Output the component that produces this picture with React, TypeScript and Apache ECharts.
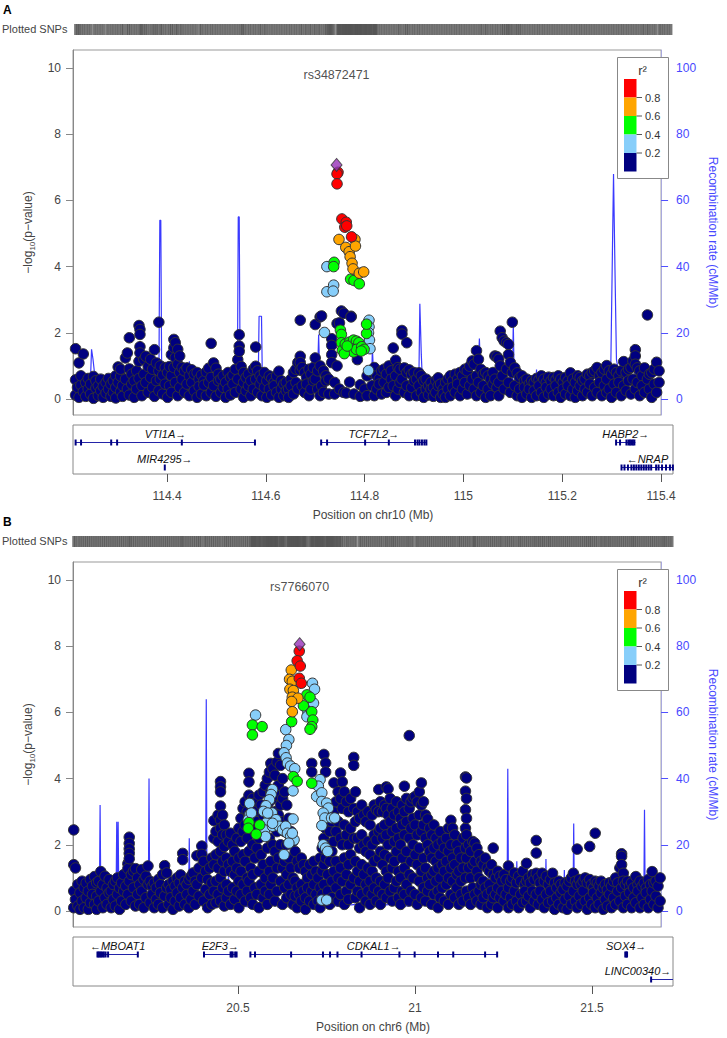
import React, { useEffect, useRef } from "react";
import * as echarts from "echarts";

const FONT = "'Liberation Sans', Arial, Helvetica, sans-serif";
const R2_COLORS = ["#000080", "#87CEFA", "#00FF00", "#FFA500", "#FF0000"];
const R2_LEGEND_LABELS = ["0.8", "0.6", "0.4", "0.2"];
const LEAD_COLOR = "#9632B8";
const LOGP_TICKS = [0, 2, 4, 6, 8, 10];
const RECOMB_TICKS = [0, 20, 40, 60, 80, 100];

// ---------------- Panel A (chr10, TCF7L2) ----------------
const A_SNP = "rs34872471";
const A_CHR = "chr10";
const A_X_RANGE = [114.2097, 115.4242];
const A_X_TICKS = [114.4, 114.6, 114.8, 115, 115.2, 115.4];
const A_LEAD = [114.754, 7.07];
const A_RED = [[114.757, 6.85], [114.755, 6.8], [114.755, 6.5], [114.765, 5.44], [114.774, 5.34], [114.771, 5.19], [114.775, 5.23], [114.785, 4.9]];
const A_ORANGE = [[114.759, 4.82], [114.773, 4.58], [114.78, 4.45], [114.782, 4.3], [114.792, 4.82], [114.793, 4.62], [114.786, 4.1], [114.788, 3.93], [114.801, 3.8], [114.81, 3.84]];
const A_GREEN = [[114.749, 4.13], [114.748, 4.0], [114.783, 3.62], [114.79, 3.58], [114.801, 3.48], [114.762, 2.08], [114.764, 1.95], [114.764, 1.7], [114.766, 1.47], [114.772, 1.66], [114.781, 1.72], [114.789, 1.78], [114.795, 1.75], [114.8, 1.7], [114.783, 1.52], [114.789, 1.42], [114.795, 1.5], [114.806, 1.58], [114.811, 1.5], [114.77, 1.37], [114.816, 1.98], [114.816, 2.26], [114.776, 1.6], [114.805, 1.45]];
const A_LBLUE = [[114.734, 4.0], [114.734, 3.24], [114.748, 3.44], [114.747, 3.26], [114.729, 2.01], [114.821, 2.38], [114.821, 2.18], [114.82, 2.0], [114.822, 1.78], [114.823, 1.52], [114.82, 0.86]];
// [position, -log10 p of SNPs near that position ...]
const A_NAVY = [[114.215,0.12,0.58,1.52],[114.219,0.35],[114.222,1.09,0.05],[114.226,0.42,0.7],[114.231,1.36,0.22],[114.236,0.5,0.08],[114.241,0.62,0.3],[114.246,0.15,0.45],[114.252,0.68,0.02],[114.257,0.33,0.55],[114.262,0.1,0.4],[114.267,0.6,0.25],[114.272,0.05,0.38],[114.278,0.5,0.18],[114.283,0.3,0.62],[114.288,0.08,0.45],[114.293,0.55,0.2],[114.298,0.7,0.35,0.03],[114.303,0.97,0.5],[114.308,0.69,0.22,0.9],[114.312,0.4,0.08],[114.318,1.24,0.6],[114.322,1.39,0.3],[114.326,1.85,0.91,0.12],[114.331,0.75,0.45],[114.336,0.55,0.05],[114.341,0.85,0.3],[114.346,2.22,1.14,0.62],[114.348,2.1,1.95,1.58,1.39],[114.352,0.4,0.1],[114.356,1.19,0.75],[114.36,1.29,0.5],[114.365,0.98,0.2],[114.37,1.2,0.65],[114.374,0.9,0.35],[114.378,1.49,0.08],[114.382,1.09,0.55],[114.387,2.32,0.85,0.25],[114.39,1.0,0.6],[114.395,0.72,0.15],[114.4,0.95,0.45],[114.405,0.8,0.05],[114.409,0.98,0.4],[114.413,1.34,0.7,0.2],[114.418,1.8,1.55,0.95],[114.421,1.7,1.25,0.5],[114.426,1.5,1.05,0.1],[114.43,1.3,0.8,0.35],[114.435,0.95,0.6],[114.44,0.85,0.2],[114.445,0.94,0.45],[114.45,0.7,0.1],[114.455,0.88,0.5],[114.46,0.75,0.25],[114.466,0.8,0.05],[114.47,0.6,0.38],[114.475,0.72,0.15],[114.48,0.55,0.42],[114.485,0.82,0.1],[114.49,0.93,0.5],[114.495,1.68,0.65,0.2],[114.5,1.09,0.4],[114.505,0.93,0.08],[114.51,0.75,0.55],[114.515,0.6,0.2],[114.52,0.7,0.35],[114.525,0.5,0.05],[114.53,0.8,0.3],[114.535,0.65,0.12],[114.54,0.72,0.45],[114.545,0.9,0.2],[114.55,1.19,0.6],[114.553,1.94,1.6,1.44],[114.557,0.98,0.3],[114.562,0.8,0.5,0.05],[114.567,0.65,0.25],[114.572,0.75,0.4],[114.577,0.55,0.1],[114.582,0.9,0.3],[114.587,1.57,0.99,0.6],[114.591,0.85,0.2],[114.596,0.7,0.45],[114.6,0.6,0.1],[114.605,0.8,0.35],[114.61,0.55,0.05],[114.615,0.7,0.3],[114.62,0.62,0.12],[114.625,0.5,0.4],[114.63,0.7,0.2],[114.635,0.84,0.05],[114.64,0.55,0.3],[114.645,0.45,0.1],[114.65,0.5,0.25],[114.655,0.3,0.05],[114.66,0.6,0.4],[114.665,0.8,0.15],[114.67,0.9,0.5],[114.674,1.1,0.3],[114.679,2.38,1.29,1.1,0.87],[114.683,0.95,0.4],[114.688,0.8,0.2],[114.692,0.65,0.45],[114.697,0.9,0.1],[114.701,0.75,0.3],[114.706,0.95,0.55],[114.71,2.25,1.24,0.6],[114.715,0.85,0.3],[114.72,2.48,1.0,0.1],[114.723,2.51,0.4],[114.727,0.85,0.2],[114.732,0.7,0.55],[114.738,0.6,0.15],[114.744,1.82,1.62,1.34,1.1],[114.75,0.5,0.15],[114.755,2.28,1.0],[114.76,2.3,0.3],[114.764,2.66],[114.769,2.59,0.2],[114.774,0.18],[114.781,0.51],[114.784,2.5,2.48],[114.79,0.15],[114.797,1.19],[114.803,0.43,0.08],[114.812,0.3],[114.817,0.7,0.1],[114.827,0.8,0.4],[114.832,0.95,0.1],[114.837,0.7,0.3],[114.842,0.6,0.45],[114.847,0.85,0.15],[114.852,0.9,0.5],[114.857,0.75,0.2],[114.862,1.0,0.35],[114.867,0.85,0.6],[114.871,1.54,0.4],[114.876,1.17,0.7,0.1],[114.881,0.95,0.3],[114.885,0.9,0.5],[114.889,2.07,1.96,0.6],[114.894,0.94,0.2],[114.899,1.7,0.8,0.4],[114.904,0.88,0.1],[114.909,0.75,0.35],[114.914,0.8,0.55],[114.919,0.6,0.1],[114.924,0.79,0.4],[114.929,0.7,0.2],[114.934,0.55,0.05],[114.939,0.6,0.3],[114.944,0.4,0.12],[114.949,0.5,0.3],[114.954,0.35,0.08],[114.959,0.55,0.2],[114.964,0.64,0.4],[114.969,0.45,0.05],[114.974,0.3,0.15],[114.979,0.5,0.05],[114.984,0.6,0.3],[114.989,0.7,0.1],[114.994,0.55,0.35],[114.999,0.75,0.2],[115.004,0.6,0.45],[115.009,0.8,0.1],[115.014,0.7,0.3],[115.019,0.9,0.5],[115.024,0.85,0.15],[115.029,0.99,0.4],[115.034,1.15,0.6],[115.038,1.05,0.3],[115.043,1.46,0.7,0.1],[115.047,1.2,0.5],[115.052,0.9,0.2],[115.057,0.75,0.4],[115.062,0.8,0.05],[115.067,0.7,0.3],[115.072,0.6,0.1],[115.077,0.8,0.45],[115.081,1.3,0.6],[115.085,1.28,0.35],[115.089,1.2,0.5,0.1],[115.092,2.05,1.0],[115.096,1.85,0.7],[115.1,1.75,0.3],[115.105,1.7,0.9],[115.109,1.65,1.34,0.5],[115.113,1.1,0.2],[115.117,2.32,0.8],[115.122,0.94,0.4],[115.127,0.79,0.1],[115.132,0.65,0.3],[115.137,0.7,0.05],[115.142,0.55,0.35],[115.147,0.6,0.15],[115.152,0.45,0.3],[115.157,0.55,0.05],[115.162,0.5,0.25],[115.167,0.62,0.1],[115.172,0.58,0.4],[115.177,0.7,0.2],[115.182,0.6,0.05],[115.187,0.5,0.35],[115.192,0.66,0.15],[115.197,0.55,0.3],[115.202,0.65,0.1],[115.207,0.58,0.4],[115.212,0.7,0.2],[115.217,0.6,0.05],[115.222,0.5,0.3],[115.227,0.65,0.15],[115.232,0.55,0.4],[115.237,0.79,0.1],[115.242,0.6,0.3],[115.247,0.5,0.05],[115.252,0.7,0.25],[115.257,0.65,0.4],[115.262,0.55,0.1],[115.267,0.6,0.3],[115.272,0.75,0.2],[115.277,0.7,0.45],[115.282,0.8,0.1],[115.287,0.85,0.35],[115.292,0.95,0.2],[115.297,0.7,0.5],[115.302,0.8,0.1],[115.307,0.9,0.4],[115.312,1.01,0.6,0.2],[115.317,0.85,0.3],[115.322,0.75,0.05],[115.327,0.9,0.45],[115.332,0.8,0.2],[115.337,0.7,0.5],[115.342,0.85,0.1],[115.347,1.13,0.4],[115.352,0.8,0.25],[115.357,0.9,0.55],[115.362,0.95,0.15],[115.366,1.15,0.6],[115.371,1.49,1.3,1.05,0.3],[115.375,0.94,0.5],[115.38,0.85,0.1],[115.385,0.7,0.4],[115.39,0.94,0.2],[115.396,2.54,0.6],[115.4,0.75,0.3],[115.405,0.8,0.05],[115.41,0.9,0.45],[115.415,1.11,0.2],[115.42,0.85,0.5],[115.425,1.04,0.3]];
const A_RECOMB = [[114.21,2],[114.22,3],[114.23,2],[114.245,2.5],[114.248,15],[114.251,12],[114.254,8],[114.257,3],[114.27,2],[114.29,1.5],[114.31,2.5],[114.33,4],[114.344,5],[114.346,8],[114.35,2],[114.37,3],[114.387,3],[114.389,54],[114.391,54],[114.393,4],[114.42,3],[114.448,3],[114.45,11.4],[114.452,3],[114.48,2],[114.5,2.5],[114.52,3],[114.54,4],[114.549,2],[114.551,55],[114.553,55],[114.555,3],[114.575,2.5],[114.592,3],[114.594,25],[114.599,25],[114.601,3],[114.62,2],[114.65,1.5],[114.668,2],[114.67,9],[114.672,3],[114.69,2],[114.714,3],[114.717,19.5],[114.719,8],[114.721,2],[114.735,1],[114.749,1],[114.751,3.5],[114.753,1],[114.77,0.5],[114.8,0.5],[114.815,1],[114.826,2],[114.828,15.5],[114.831,5],[114.84,2],[114.87,2],[114.9,3],[114.92,4],[114.924,6],[114.926,28.8],[114.929,13.4],[114.932,3],[114.95,2],[114.97,1.5],[115.0,2],[115.03,3],[115.045,4],[115.049,18.3],[115.052,4],[115.08,2],[115.1,3],[115.117,5],[115.119,23],[115.121,4],[115.14,2.5],[115.165,3],[115.167,8.9],[115.169,2],[115.2,1.5],[115.25,2],[115.3,2.5],[115.32,6],[115.326,68],[115.329,39],[115.332,12],[115.34,5],[115.36,3],[115.369,4],[115.371,13.4],[115.374,4],[115.4,2],[115.424,3]];
// [name, start, end, row, strand, exons]
const A_GENES = [
  ["VTI1A", 114.215, 114.579, 1, "+", [114.215, 114.226, 114.287, 114.299, 114.43, 114.578]],
  ["MIR4295", 114.395, 114.396, 2, "+", [114.3955]],
  ["TCF7L2", 114.712, 114.925, 1, "+", [114.712, 114.724, 114.801, 114.849, 114.902, 114.907, 114.911, 114.916, 114.921, 114.925]],
  ["HABP2", 115.309, 115.348, 1, "+", [115.309, 115.317, 115.33, 115.334, 115.337, 115.34, 115.343, 115.346]],
  ["NRAP", 115.32, 115.425, 2, "-", [115.32, 115.326, 115.333, 115.34, 115.345, 115.35, 115.355, 115.36, 115.365, 115.37, 115.375, 115.38, 115.39, 115.395, 115.402, 115.41, 115.418, 115.424]],
];

// ---------------- Panel B (chr6, CDKAL1) ----------------
const B_SNP = "rs7766070";
const B_CHR = "chr6";
const B_X_RANGE = [20.0339, 21.7288];
const B_X_TICKS = [20.5, 21, 21.5];
const B_LEAD = [20.687, 8.06];
const B_RED = [[20.686, 7.85], [20.68, 7.56], [20.689, 7.4], [20.686, 7.03], [20.692, 6.88]];
const B_ORANGE = [[20.663, 7.28], [20.658, 7.0], [20.666, 6.94], [20.659, 6.7], [20.669, 6.66], [20.666, 6.46], [20.682, 6.43], [20.664, 6.33], [20.666, 6.02]];
const B_GREEN = [[20.551, 5.62], [20.579, 5.57], [20.551, 5.32], [20.664, 5.72], [20.708, 6.53], [20.717, 6.46], [20.698, 6.2], [20.722, 6.02], [20.725, 5.77], [20.722, 5.57], [20.717, 5.49], [20.669, 4.06], [20.68, 3.92], [20.722, 3.86], [20.541, 2.67], [20.539, 2.5], [20.572, 2.6], [20.562, 2.32]];
const B_LBLUE = [[20.56,5.92],[20.647,5.48],[20.656,5.18],[20.649,5.0],[20.642,4.78],[20.648,4.63],[20.652,4.47],[20.661,4.38],[20.673,4.3],[20.724,6.88],[20.73,6.7],[20.727,6.28],[20.711,6.02],[20.708,5.87],[20.668,3.63],[20.746,3.97],[20.741,3.77],[20.736,3.46],[20.751,3.57],[20.751,3.31],[20.765,3.26],[20.77,3.11],[20.755,2.96],[20.76,2.81],[20.779,2.81],[20.788,2.81],[20.751,2.58],[20.755,2.0],[20.762,1.9],[20.768,1.8],[20.751,0.33],[20.765,0.33],[20.609,3.67],[20.605,3.52],[20.6,3.36],[20.59,3.18],[20.583,3.01],[20.608,2.96],[20.598,2.81],[20.591,2.66],[20.586,2.45],[20.589,2.25],[20.619,2.76],[20.609,2.56],[20.628,2.56],[20.638,2.45],[20.647,2.56],[20.652,2.35],[20.661,2.25],[20.671,2.15],[20.656,2.05],[20.668,2.78],[20.642,1.7],[20.543,2.91],[20.539,2.76],[20.543,3.25],[20.548,2.96],[20.595,2.96],[20.609,2.65],[20.666,2.35]];
const B_NAVY = [[20.036,2.45,1.4,0.6,0.1],[20.041,1.3,0.35],[20.048,0.8,0.15],[20.054,0.55,0.05],[20.06,0.9,0.3],[20.066,0.7,0.1],[20.072,0.85,0.4],[20.078,0.6,0.05],[20.084,0.95,0.25],[20.09,0.75,0.5],[20.096,1.04,0.2],[20.102,0.85,0.45,0.05],[20.108,0.9,0.3],[20.114,1.19,0.6],[20.12,0.8,0.1],[20.126,1.05,0.4],[20.132,0.7,0.2],[20.138,0.95,0.55],[20.144,0.6,0.1],[20.15,0.8,0.35],[20.156,0.9,0.15],[20.162,1.0,0.5],[20.168,0.7,0.05],[20.174,0.85,0.3],[20.18,1.1,0.6],[20.186,0.75,0.2],[20.192,1.43,1.28,0.5],[20.196,2.23,2.04,1.88,1.74,1.58,0.9],[20.202,1.1,0.3],[20.208,1.2,0.7],[20.214,1.28,0.15],[20.22,1.0,0.5],[20.226,0.8,0.2],[20.232,1.25,0.6],[20.238,0.95,0.1],[20.244,1.05,0.4],[20.25,1.36,0.8],[20.256,0.9,0.25],[20.262,0.75,0.5],[20.268,0.85,0.1],[20.274,0.7,0.35],[20.28,0.95,0.2],[20.286,0.8,0.55],[20.292,1.1,0.1],[20.298,1.37,0.45],[20.304,1.15,0.7],[20.31,0.8,0.2],[20.316,0.65,0.4],[20.322,0.9,0.05],[20.328,0.75,0.3],[20.334,1.0,0.55],[20.34,0.85,0.15],[20.344,1.09,0.4],[20.35,1.74,1.55,0.7],[20.356,0.9,0.2],[20.362,0.8,0.5],[20.368,0.95,0.1],[20.374,1.05,0.35],[20.38,1.15,0.6],[20.386,0.9,0.2],[20.391,1.67,0.8],[20.397,1.3,0.45],[20.405,1.96,1.71,1.0],[20.41,1.5,0.3],[20.416,1.2,0.65],[20.422,0.95,0.1],[20.428,1.3,0.5],[20.434,1.6,0.85,0.2],[20.44,2.73,2.2,1.4,0.6],[20.446,2.4,1.7,0.9,0.25],[20.452,2.9,2.1,1.3,0.5],[20.459,3.91,3.75,3.6,3.17,2.75,2.5,1.8,1.0,0.3],[20.465,2.9,2.3,1.5,0.7],[20.47,2.6,1.95,1.2,0.15],[20.476,2.3,1.6,0.8,0.4],[20.482,2.1,1.4,0.6],[20.488,2.35,1.2,0.2],[20.494,2.0,1.5,0.7],[20.5,1.8,1.1,0.35],[20.506,2.2,1.3,0.6],[20.512,2.5,1.6,0.9,0.1],[20.518,2.8,2.1,1.2,0.5],[20.524,3.1,2.4,1.7,0.8],[20.53,3.3,2.6,1.5,0.3],[20.536,3.0,2.2,1.0,0.6],[20.541,4.16,3.9,3.5,2.9,1.8,0.9],[20.546,3.2,2.6,1.3,0.4],[20.552,3.4,2.0,1.1,0.2],[20.558,3.0,2.4,1.6,0.7],[20.564,3.3,2.7,1.9,0.5],[20.57,3.5,2.2,1.2,0.1],[20.576,3.2,2.6,1.7,0.8],[20.582,3.6,2.9,1.4,0.4],[20.588,3.8,2.5,1.0,0.6],[20.594,4.0,3.1,1.9,0.2],[20.6,4.2,3.3,2.2,1.2,0.5],[20.604,4.46,3.6,2.6,1.5,0.8],[20.61,4.3,3.4,2.0,1.0],[20.616,4.1,3.0,1.8,0.3],[20.622,4.5,3.5,2.4,1.3,0.6],[20.626,4.76,3.8,2.9,1.6],[20.632,4.4,3.2,2.0,0.9],[20.638,4.0,3.4,2.7,1.3,0.2],[20.644,3.6,2.4,1.5,0.7],[20.65,3.2,2.0,1.1,0.4],[20.656,2.8,1.6,0.8],[20.662,2.4,1.3,0.5],[20.668,2.1,1.0,0.2],[20.674,1.8,0.9,0.45],[20.68,1.5,0.7,0.1],[20.686,1.3,0.5],[20.692,1.6,0.8,0.3],[20.698,1.4,0.6],[20.704,1.2,0.4,0.05],[20.71,1.0,0.7],[20.716,1.4,0.3],[20.722,4.46,4.2,1.1,0.6],[20.728,1.5,0.8,0.2],[20.734,1.2,0.5],[20.74,1.0,0.3],[20.746,1.6,0.7,0.1],[20.752,1.9,1.2,0.5],[20.757,4.73,2.2,1.4,0.8],[20.762,4.47,4.2,2.5,1.6,0.3],[20.768,2.0,1.1,0.6],[20.774,2.4,1.5,0.2],[20.78,2.7,1.8,0.9,0.4],[20.786,3.87,3.0,2.1,1.2],[20.792,3.3,2.4,1.5,0.7],[20.798,3.6,2.7,1.0,0.3],[20.805,4.17,3.4,2.2,1.3,0.5],[20.81,3.9,3.1,2.0,0.9],[20.816,3.6,2.6,1.6,0.2],[20.822,3.3,2.3,1.1,0.6],[20.828,3.0,2.0,1.4,0.35],[20.834,3.4,2.5,1.7,0.8],[20.843,4.64,4.4,3.1,2.2,1.0],[20.848,3.6,2.7,1.5,0.4],[20.854,3.0,2.2,1.2,0.6],[20.86,2.8,1.9,0.9,0.1],[20.866,3.2,2.3,1.4,0.5],[20.872,2.9,2.0,1.1],[20.878,2.7,1.8,0.8,0.3],[20.884,3.0,2.1,1.3,0.6],[20.89,2.6,1.7,0.9,0.2],[20.896,2.9,2.0,1.2,0.5],[20.902,3.2,2.3,1.5,0.7],[20.908,3.06,2.15,1.0,0.3],[20.915,3.67,3.0,2.4,1.6,0.6],[20.92,3.3,2.5,1.8,0.9,0.2],[20.926,3.0,2.2,1.4,0.5],[20.932,3.2,2.6,1.7,0.8],[20.937,3.75,3.1,2.3,1.2,0.4],[20.942,3.69,2.9,2.0,1.0],[20.948,3.4,2.7,1.6,0.6],[20.954,3.1,2.4,1.3,0.3],[20.96,2.9,2.1,1.5,0.7],[20.966,3.3,2.5,1.8,0.9],[20.972,3.0,2.2,1.2,0.4],[20.978,2.8,2.0,1.0,0.2],[20.983,3.2,2.6,1.6,0.6],[20.989,3.77,3.0,2.3,1.3,0.5],[20.995,3.4,2.7,1.8,0.8],[21.003,5.3,3.1,2.2,1.1,0.3],[21.008,3.3,2.5,1.5,0.6],[21.014,3.41,2.8,2.0,1.0],[21.02,3.46,2.6,1.7,0.5],[21.026,3.3,2.3,1.4,0.2],[21.032,3.6,2.9,1.9,0.9],[21.038,3.87,3.2,2.4,1.2,0.4],[21.044,3.3,2.6,1.6,0.7],[21.05,2.9,2.2,1.3,0.3],[21.056,2.78,2.0,1.0,0.6],[21.062,2.5,1.8,0.8],[21.068,2.3,1.6,1.1,0.2],[21.074,2.6,1.9,1.2,0.5],[21.08,2.2,1.5,0.9],[21.086,2.0,1.3,0.6,0.1],[21.092,2.4,1.7,1.0,0.4],[21.098,2.1,1.4,0.7],[21.104,1.9,1.2,0.3],[21.11,2.2,1.5,0.8],[21.116,2.5,1.8,1.0,0.2],[21.123,2.74,2.0,1.3,0.5],[21.128,2.5,1.6,0.9],[21.134,2.3,1.4,0.4],[21.14,2.0,1.1,0.7],[21.146,1.8,1.2,0.2],[21.152,1.6,0.9,0.5],[21.158,2.2,1.3,0.3],[21.165,4.05,3.62,3.06,2.5,1.9,1.0],[21.168,4.02,3.4,2.8,2.3,1.6,0.6],[21.174,2.0,1.3,0.4],[21.18,1.8,1.0,0.2],[21.186,2.1,1.4,0.7],[21.192,2.05,1.5,0.5],[21.198,1.9,1.2,0.3],[21.204,1.7,1.0,0.6],[21.21,1.5,0.8,0.2],[21.216,1.4,0.9,0.4],[21.222,1.6,0.7],[21.228,1.3,0.5,0.1],[21.234,1.2,0.8],[21.24,1.4,0.6,0.2],[21.245,1.9,1.1,0.4],[21.252,1.0,0.5],[21.258,1.2,0.7,0.1],[21.264,1.05,0.4],[21.27,0.9,0.6],[21.276,1.1,0.3],[21.282,0.95,0.5],[21.289,1.36,0.7,0.1],[21.295,0.9,0.4],[21.3,1.0,0.2],[21.306,1.15,0.6],[21.312,0.85,0.3],[21.318,1.05,0.1],[21.324,0.9,0.5],[21.33,1.2,0.25],[21.336,0.8,0.6],[21.341,1.44,0.9,0.3],[21.347,1.0,0.45],[21.352,0.85,0.1],[21.358,1.1,0.6],[21.363,0.95,0.3],[21.369,2.13,1.75,1.14,0.5],[21.375,1.0,0.2],[21.38,0.85,0.6],[21.386,1.14,0.35],[21.392,0.9,0.1],[21.398,1.05,0.5],[21.404,0.8,0.25],[21.41,0.95,0.6],[21.416,1.14,0.3],[21.422,0.85,0.05],[21.428,0.7,0.4],[21.434,0.9,0.2],[21.44,0.8,0.55],[21.446,0.65,0.1],[21.452,0.85,0.35],[21.458,0.75,0.05],[21.464,0.9,0.45],[21.47,1.0,0.2],[21.476,1.14,0.6],[21.482,0.9,0.3],[21.487,1.87,0.8,0.1],[21.493,0.95,0.45],[21.498,0.8,0.2],[21.504,0.9,0.6],[21.51,1.0,0.3],[21.516,0.85,0.05],[21.523,1.95,0.95,0.4],[21.528,0.8,0.2],[21.534,0.7,0.55],[21.539,2.35,0.9,0.1],[21.545,0.85,0.4],[21.55,0.75,0.2],[21.556,0.9,0.55],[21.562,0.7,0.05],[21.568,0.8,0.35],[21.574,0.65,0.15],[21.58,0.85,0.5],[21.586,0.75,0.1],[21.592,0.9,0.4],[21.598,1.0,0.2],[21.604,0.85,0.6],[21.61,1.3,0.3],[21.615,1.73,1.65,1.4,0.7],[21.62,1.14,0.9,0.1],[21.626,0.8,0.45],[21.632,0.9,0.2],[21.638,0.75,0.55],[21.644,0.85,0.1],[21.65,0.7,0.4],[21.656,1.04,0.25],[21.662,0.8,0.6],[21.668,0.9,0.1],[21.674,0.75,0.4],[21.68,0.85,0.2],[21.686,0.7,0.55],[21.692,0.95,0.1],[21.698,0.8,0.35],[21.703,1.19,0.6],[21.708,0.85,0.2],[21.714,0.9,0.45],[21.72,0.75,0.1],[21.726,1.0,0.3]];
const B_RECOMB = [[20.034,3],[20.04,5],[20.045,2],[20.07,1.5],[20.1,2],[20.11,4],[20.112,32],[20.114,5],[20.13,3],[20.158,4],[20.16,27],[20.162,6],[20.164,27],[20.166,4],[20.18,3],[20.204,4],[20.206,16],[20.208,3],[20.23,2],[20.251,3],[20.253,40],[20.255,3],[20.29,2],[20.33,2.5],[20.35,3],[20.367,4],[20.369,22],[20.371,3],[20.4,2],[20.416,4],[20.418,64],[20.42,4],[20.45,2],[20.48,3],[20.482,13],[20.484,2],[20.52,1.5],[20.56,1],[20.6,1.5],[20.62,3],[20.625,1],[20.66,2.5],[20.665,1],[20.7,0.8],[20.74,1.2],[20.76,2],[20.8,1.5],[20.85,2],[20.9,1.5],[20.95,2],[21.0,1.5],[21.05,2.5],[21.1,2],[21.15,1.5],[21.2,2],[21.229,3],[21.231,15],[21.233,2],[21.27,1.5],[21.285,3],[21.287,43],[21.289,4],[21.311,3],[21.313,15],[21.315,2],[21.35,1.5],[21.395,3],[21.397,15.7],[21.399,2],[21.448,2],[21.45,12.4],[21.452,1],[21.475,2],[21.477,26.4],[21.479,1],[21.52,0.8],[21.56,1.2],[21.6,1],[21.64,1.5],[21.679,2],[21.681,30.6],[21.683,3],[21.7,1.5],[21.729,2]];
const B_GENES = [
  ["MBOAT1", 20.103, 20.217, 1, "-", [20.103, 20.106, 20.109, 20.113, 20.117, 20.121, 20.126, 20.133, 20.217]],
  ["E2F3", 20.404, 20.496, 1, "+", [20.404, 20.479, 20.482, 20.485, 20.492, 20.496]],
  ["CDKAL1", 20.535, 21.232, 1, "+", [20.535, 20.548, 20.65, 20.74, 20.76, 20.781, 20.849, 20.956, 20.999, 21.065, 21.108, 21.198, 21.232]],
  ["SOX4", 21.594, 21.599, 1, "+", [21.594, 21.597, 21.599]],
  ["LINC00340", 21.667, 21.75, 2, "+", [21.667]],
];

const flat = (groups: number[][]) => groups.flatMap(([x, ...ys]) => ys.map((y) => [x, y]));

const PANELS = [
  { base: 0, letter: "A", chr: A_CHR, xRange: A_X_RANGE, xTicks: A_X_TICKS, snp: A_SNP, lead: A_LEAD,
    classes: [flat(A_NAVY), A_LBLUE, A_GREEN, A_ORANGE, A_RED], recomb: A_RECOMB, genes: A_GENES },
  { base: 512, letter: "B", chr: B_CHR, xRange: B_X_RANGE, xTicks: B_X_TICKS, snp: B_SNP, lead: B_LEAD,
    classes: [flat(B_NAVY), B_LBLUE, B_GREEN, B_ORANGE, B_RED], recomb: B_RECOMB, genes: B_GENES },
];

const LOGP_MIN = -0.4834;
const LOGP_MAX = 10.544;
const SNP_LABEL_Y = 9.8;

function geneSeries(genes: any[], xIdx: number, yIdx: number) {
  return {
    type: "custom",
    xAxisIndex: xIdx,
    yAxisIndex: yIdx,
    silent: true,
    clip: false,
    z: 3,
    data: genes.map((g) => [g[1], g[2], g[3]]),
    encode: { x: [0, 1], y: 2 },
    renderItem: (params: any, api: any) => {
      const g = genes[params.dataIndex];
      const cs = params.coordSys;
      const xl = cs.x;
      const xr = cs.x + cs.width;
      const p1 = api.coord([g[1], g[3]]);
      const p2 = api.coord([g[2], g[3]]);
      const y = Math.round(p1[1]) + 0.5;
      const a = Math.max(p1[0], xl);
      const b = Math.min(p2[0], xr);
      const children: any[] = [
        { type: "line", shape: { x1: a, y1: y, x2: b, y2: y }, style: { stroke: "#2424a8", lineWidth: 1 } },
      ];
      for (const e of g[5]) {
        const ex = api.coord([e, g[3]])[0];
        if (ex < xl || ex > xr) continue;
        children.push({ type: "rect", shape: { x: ex - 1, y: y - 3, width: 2, height: 6 }, style: { fill: "#000080" } });
      }
      const text = g[4] === "+" ? g[0] + "\u2192" : "\u2190" + g[0];
      const hw = text.length * 3.3;
      let cx = (p1[0] + p2[0]) / 2;
      cx = Math.min(Math.max(cx, xl + hw + 2), xr - hw - 2);
      children.push({
        type: "text",
        x: cx,
        y: y - 9,
        style: {
          text,
          fill: "#111",
          fontStyle: "italic",
          fontSize: 11,
          fontFamily: FONT,
          align: "center",
          verticalAlign: "middle",
          textAlign: "center",
          textVerticalAlign: "middle",
        },
      });
      return { type: "group", children };
    },
  };
}

function buildOption() {
  const grid: any[] = [];
  const xAxis: any[] = [];
  const yAxis: any[] = [];
  const series: any[] = [];
  const graphic: any[] = [];

  PANELS.forEach((p, k) => {
    const b = p.base;
    const gi = 3 * k;
    const yi = 4 * k;
    grid.push({ left: 73, top: b + 24, width: 600, height: 11, show: false });
    grid.push({ left: 73, top: b + 50, width: 600, height: 365, show: true, borderColor: "#999", borderWidth: 1, backgroundColor: "#fff" });
    grid.push({ left: 73, top: b + 425, width: 600, height: 49, show: true, borderColor: "#888", borderWidth: 1, backgroundColor: "#fff" });

    const [xMin, xMax] = p.xRange;
    xAxis.push({ gridIndex: gi, type: "value", min: xMin, max: xMax, show: false });
    xAxis.push({ gridIndex: gi + 1, type: "value", min: xMin, max: xMax, show: false });
    xAxis.push({
      gridIndex: gi + 2,
      type: "value",
      min: xMin,
      max: xMax,
      position: "bottom",
      axisLine: { show: false },
      axisTick: { show: true, length: 8, customValues: p.xTicks, lineStyle: { color: "#555" } },
      axisLabel: { show: true, customValues: p.xTicks, margin: 16, color: "#444", fontSize: 12, fontFamily: FONT, formatter: (v: number) => String(v) },
      splitLine: { show: false },
      name: `Position on ${p.chr} (Mb)`,
      nameLocation: "middle",
      nameGap: 35,
      nameTextStyle: { color: "#444", fontSize: 12, fontFamily: FONT },
    });

    yAxis.push({ gridIndex: gi, type: "value", min: -1, max: 1, show: false });
    yAxis.push({
      gridIndex: gi + 1,
      type: "value",
      min: LOGP_MIN,
      max: LOGP_MAX,
      position: "left",
      axisLine: { show: true, onZero: false, lineStyle: { color: "#888" } },
      axisTick: { show: true, length: 7, customValues: LOGP_TICKS, lineStyle: { color: "#888" } },
      axisLabel: { show: true, customValues: LOGP_TICKS, margin: 12, color: "#444", fontSize: 12, fontFamily: FONT },
      splitLine: { show: false },
      name: "{a|\u2212log}{s|10}{a|(p\u2212value)}",
      nameLocation: "middle",
      nameGap: 30,
      nameTextStyle: {
        rich: {
          a: { fontSize: 12, color: "#444", fontFamily: FONT, lineHeight: 18, verticalAlign: "middle" },
          s: { fontSize: 8, color: "#444", fontFamily: FONT, lineHeight: 18, verticalAlign: "bottom" },
        },
      },
    });
    yAxis.push({
      gridIndex: gi + 1,
      type: "value",
      min: LOGP_MIN * 10,
      max: LOGP_MAX * 10,
      position: "right",
      axisLine: { show: true, onZero: false, lineStyle: { color: "#a9a9dd" } },
      axisTick: { show: true, length: 7, customValues: RECOMB_TICKS, lineStyle: { color: "#5050ff" } },
      axisLabel: { show: true, customValues: RECOMB_TICKS, margin: 15, color: "#4848ff", fontSize: 12, fontFamily: FONT },
      splitLine: { show: false },
      name: "Recombination rate (cM/Mb)",
      nameLocation: "middle",
      nameGap: 38,
      nameRotate: -90,
      nameTextStyle: { color: "#4848ff", fontSize: 12, fontFamily: FONT },
    });
    yAxis.push({ gridIndex: gi + 2, type: "value", min: 0.32, max: 2.28, inverse: true, show: false });

    // rug of plotted SNPs
    const allPos = Array.from(new Set(p.classes.flatMap((c) => c.map((d) => d[0])).concat([p.lead[0]]))).sort((a, b2) => a - b2);
    series.push({
      type: "scatter",
      xAxisIndex: gi,
      yAxisIndex: yi,
      silent: true,
      symbol: "rect",
      symbolSize: [3, 11],
      itemStyle: { color: "#555" },
      data: allPos.map((x) => [x, 0]),
      z: 2,
    });

    // recombination rate
    series.push({
      type: "line",
      xAxisIndex: gi + 1,
      yAxisIndex: yi + 2,
      data: p.recomb,
      showSymbol: false,
      symbol: "none",
      silent: true,
      lineStyle: { color: "#3a3aff", width: 1.2 },
      z: 1,
    });

    // SNP classes
    p.classes.forEach((data, ci) => {
      series.push({
        type: "scatter",
        xAxisIndex: gi + 1,
        yAxisIndex: yi + 1,
        silent: true,
        symbol: "circle",
        symbolSize: 10.5,
        itemStyle: { color: R2_COLORS[ci], borderColor: "#333", borderWidth: 1, opacity: 1 },
        data,
        z: 2 + ci * 0.01,
      });
    });
    series.push({
      type: "scatter",
      xAxisIndex: gi + 1,
      yAxisIndex: yi + 1,
      silent: true,
      symbol: "diamond",
      symbolSize: [11, 13],
      itemStyle: { color: LEAD_COLOR, borderColor: "#333", borderWidth: 1 },
      data: [p.lead],
      z: 3,
    });
    series.push({
      type: "scatter",
      xAxisIndex: gi + 1,
      yAxisIndex: yi + 1,
      silent: true,
      symbolSize: 1,
      itemStyle: { color: "rgba(0,0,0,0)" },
      label: { show: true, position: "inside", formatter: p.snp, color: "#222", fontSize: 12.5, fontFamily: FONT },
      data: [[p.lead[0], SNP_LABEL_Y]],
      z: 3,
    });

    series.push(geneSeries(p.genes, gi + 2, yi + 3));

    // panel letter and rug label
    graphic.push({ type: "text", x: 3, y: b + 4, z: 100, style: { text: p.letter, fill: "#000", font: `bold 12px ${FONT}` } });
    graphic.push({
      type: "text", x: 2, y: b + 29, z: 100,
      style: { text: "Plotted SNPs", fill: "#444", font: `11px ${FONT}`, textVerticalAlign: "middle", verticalAlign: "middle" },
    });

    // r2 legend
    const ly = b + 57;
    graphic.push({ type: "rect", z: 100, shape: { x: 617.5, y: ly + 0.5, width: 51, height: 121 }, style: { fill: "#fff", stroke: "#888", lineWidth: 1 } });
    graphic.push({
      type: "text", z: 101, x: 642.5, y: ly + 13,
      style: { text: "r\u00B2", fill: "#333", font: `13px ${FONT}`, textAlign: "center", textVerticalAlign: "middle", align: "center", verticalAlign: "middle" },
    });
    for (let i = 0; i < 5; i++) {
      graphic.push({ type: "rect", z: 101, shape: { x: 624, y: ly + 22 + 18.5 * i, width: 12.5, height: 18.5 }, style: { fill: R2_COLORS[4 - i] } });
    }
    R2_LEGEND_LABELS.forEach((lab, j) => {
      const ty = ly + 22 + 18.5 * (j + 1);
      graphic.push({ type: "line", z: 101, shape: { x1: 636.5, y1: ty, x2: 642, y2: ty }, style: { stroke: "#555", lineWidth: 1 } });
      graphic.push({
        type: "text", z: 101, x: 645, y: ty,
        style: { text: lab, fill: "#333", font: `11px ${FONT}`, textVerticalAlign: "middle", verticalAlign: "middle" },
      });
    });
  });

  return {
    animation: false,
    backgroundColor: "#fff",
    textStyle: { fontFamily: FONT },
    grid,
    xAxis,
    yAxis,
    series,
    graphic: { elements: graphic },
  };
}

export default function App() {
  const ref = useRef<HTMLDivElement>(null);
  useEffect(() => {
    document.body.style.margin = "0";
    if (!ref.current) return;
    const chart = echarts.init(ref.current, null, { renderer: "svg" });
    chart.setOption(buildOption() as any);
    return () => chart.dispose();
  }, []);
  return <div ref={ref} style={{ width: 727, height: 1038 }} />;
}
